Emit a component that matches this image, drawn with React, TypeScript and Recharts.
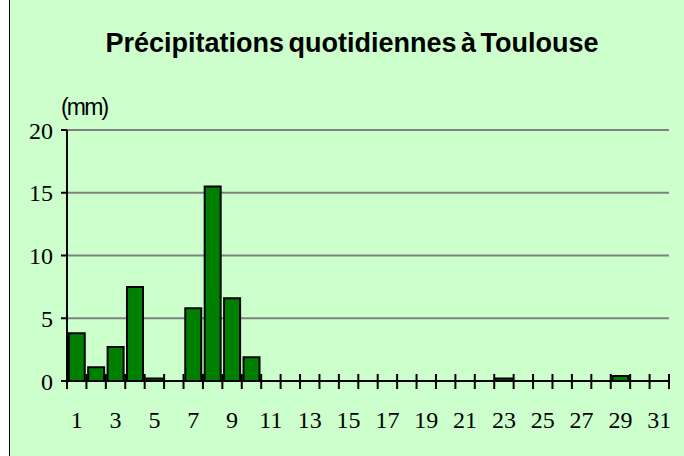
import {
  BarChart,
  Bar,
  XAxis,
  YAxis,
  CartesianGrid,
} from "recharts";

const days = Array.from({ length: 31 }, (_, i) => i + 1);

// daily rainfall in mm (0 = no rain)
const rainfall = [
  3.8, 1.1, 2.7, 7.5, 0.2, 0, 5.8, 15.5, 6.6, 1.9,
  0, 0, 0, 0, 0, 0, 0, 0, 0, 0,
  0, 0, 0.2, 0, 0, 0, 0, 0, 0.4, 0,
  0,
];

const yTicks = [0, 5, 10, 15, 20];

const data = days.map((d, i) => ({ day: d, mm: rainfall[i] }));

const SERIF = "'Liberation Serif', 'Times New Roman', serif";
const SANS = "'Liberation Sans', Arial, sans-serif";

// cross ticks on the day boundaries, label on odd days only
function DayTick(props: any) {
  const { x, y, payload, index, visibleTicksCount, width } = props;
  const half = payload?.offset || width / visibleTicksCount / 2;
  const isLast = index === visibleTicksCount - 1;
  return (
    <g>
      <line x1={x - half} x2={x - half} y1={y - 7} y2={y + 8} stroke="#000" strokeWidth={2} />
      {isLast && (
        <line x1={x + half} x2={x + half} y1={y - 7} y2={y + 8} stroke="#000" strokeWidth={2} />
      )}
      {payload.value % 2 === 1 && (
        <text x={x} y={y + 47} textAnchor="middle" fontFamily={SERIF} fontSize={24} fill="#000">
          {payload.value}
        </text>
      )}
    </g>
  );
}

export default function App() {
  return (
    <div
      style={{
        position: "absolute",
        left: 0,
        top: 0,
        width: 684,
        height: 456,
        background: "#fff",
        overflow: "hidden",
      }}
    >
      <div
        style={{
          position: "absolute",
          left: 9,
          top: 0,
          width: 675,
          height: 456,
          background: "#CCFFCC",
          borderLeft: "1px solid #000",
          boxSizing: "border-box",
        }}
      />
      <div
        style={{
          position: "absolute",
          left: 0,
          width: 704,
          top: 28,
          textAlign: "center",
          fontFamily: SANS,
          fontWeight: "bold",
          fontSize: 27,
          wordSpacing: -3,
          lineHeight: "30px",
          color: "#000",
          whiteSpace: "nowrap",
        }}
      >
        Précipitations quotidiennes à Toulouse
      </div>
      <div
        style={{
          position: "absolute",
          left: 61,
          top: 94,
          fontFamily: SANS,
          fontSize: 23,
          letterSpacing: -1.8,
          lineHeight: "26px",
          color: "#000",
        }}
      >
        (mm)
      </div>
      <div style={{ position: "absolute", left: 0, top: 0 }}>
        <BarChart
          width={684}
          height={456}
          data={data}
          margin={{ top: 130, right: 15, bottom: 25, left: 0 }}
          barCategoryGap="9%"
        >
          <CartesianGrid horizontal vertical={false} stroke="#808080" strokeWidth={2} />
          <XAxis
            dataKey="day"
            interval={0}
            height={50}
            tickSize={0}
            tickMargin={0}
            tickLine={false}
            axisLine={{ stroke: "#000", strokeWidth: 2 }}
            tick={<DayTick />}
          />
          <YAxis
            width={67}
            domain={[0, 20]}
            ticks={yTicks}
            interval={0}
            tickSize={6}
            tickMargin={8}
            axisLine={{ stroke: "#000", strokeWidth: 2 }}
            tickLine={{ stroke: "#000", strokeWidth: 2 }}
            tick={{ fontFamily: SERIF, fontSize: 24, fill: "#000" }}
          />
          <Bar
            dataKey="mm"
            fill="#008000"
            stroke="#000"
            strokeWidth={2}
            isAnimationActive={false}
          />
        </BarChart>
      </div>
    </div>
  );
}
